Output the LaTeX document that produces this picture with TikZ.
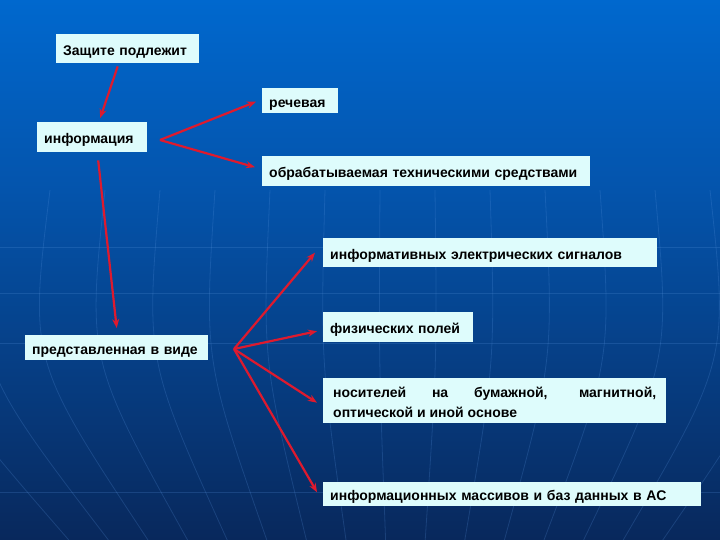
\documentclass[tikz,border=0pt]{standalone}
\usepackage{fontspec}
\setmainfont{Liberation Sans}
\usepackage{tikz}
\usetikzlibrary{arrows.meta, positioning, calc}
\definecolor{slideTop}{RGB}{0, 104, 206}
\definecolor{slideMid}{RGB}{4, 84, 172}
\definecolor{slideLow}{RGB}{8, 40, 92}
\definecolor{gridBlue}{RGB}{90, 150, 225}
\definecolor{boxCyan}{RGB}{222, 252, 252}
\definecolor{linkRed}{RGB}{222, 26, 46}

\begin{document}
\begin{tikzpicture}[
    x=1pt, y=-1pt,
    box/.style={
        rectangle,
        fill=boxCyan,
        anchor=north west,
        inner xsep=7pt,
        inner ysep=0pt,
        text height=15pt,
        text depth=2pt,
        align=left,
        font=\fontsize{14}{20}\selectfont\bfseries
    },
    link/.style={
        draw=linkRed,
        line width=2.2pt,
        -{Stealth[length=9pt,width=7pt]}
    }
]
    % background of the slide
    \useasboundingbox (0,0) rectangle (720,540);
    \shade[top color=slideTop, bottom color=slideMid] (0,0) rectangle (720,190);
    \shade[top color=slideMid, bottom color=slideLow] (0,190) rectangle (720,540);
    \foreach \gy in {247, 293, 343, 492}
        \draw[gridBlue, opacity=0.22, line width=0.8pt] (0,\gy) -- (720,\gy);
    \foreach \gx in {-60, -5, ..., 800}
        \draw[gridBlue, opacity=0.22, line width=0.8pt]
            (\gx,190) .. controls ({\gx+(\gx-400)*0.06},360) .. ({400+(\gx-400)*0.72},540);

    % boxes
    \node[box, minimum width=143pt, minimum height=29pt, text width=129pt] (zashita) at (56,34) {Защите подлежит};
    \node[box, minimum width=76pt, minimum height=25pt, text width=62pt] (rech) at (262,88) {речевая};
    \node[box, minimum width=110pt, minimum height=30pt, text width=96pt] (info) at (37,122) {информация};
    \node[box, minimum width=328pt, minimum height=30pt, text width=314pt] (obrab) at (262,156) {обрабатываемая техническими средствами};
    \node[box, minimum width=334pt, minimum height=29pt, text width=320pt] (signal) at (323,238) {информативных электрических сигналов};
    \node[box, minimum width=150pt, minimum height=30pt, text width=136pt] (polya) at (323,312) {физических полей};
    \node[box, minimum width=183pt, minimum height=25pt, text width=169pt] (predst) at (25,335) {представленная в виде};
    \node[box, minimum width=343pt, minimum height=45pt, text width=323pt, align=justify, inner xsep=8pt,
          text height=16pt, text depth=23pt] (nosit) at (323,378)
        {носителей на бумажной, магнитной,\linebreak оптической и иной основе};
    \node[box, minimum width=378pt, minimum height=24pt, text width=364pt] (massiv) at (323,482) {информационных массивов и баз данных в АС};

    % forks
    \coordinate (infofork) at (160,140);
    \coordinate (formfork) at (234,349);

    % arrows
    \draw[link] ([xshift=-10pt,yshift=-3pt]zashita.south) -- ([xshift=8pt,yshift=4pt]info.north);
    \draw[link] (infofork) -- ([xshift=-6pt,yshift=-1pt]rech.west);
    \draw[link] (infofork) -- ([xshift=-7pt,yshift=4pt]obrab.west);
    \draw[link] ([xshift=6pt,yshift=-8pt]info.south) -- ([yshift=7pt]predst.north);
    \draw[link] (formfork) -- ([xshift=-8pt]signal.west);
    \draw[link] (formfork) -- ([xshift=-6pt,yshift=-4pt]polya.west);
    \draw[link] (formfork) -- ([xshift=-6pt,yshift=-2pt]nosit.west);
    \draw[link] (formfork) -- ([xshift=-6pt,yshift=2pt]massiv.west);

\end{tikzpicture}
\end{document}
